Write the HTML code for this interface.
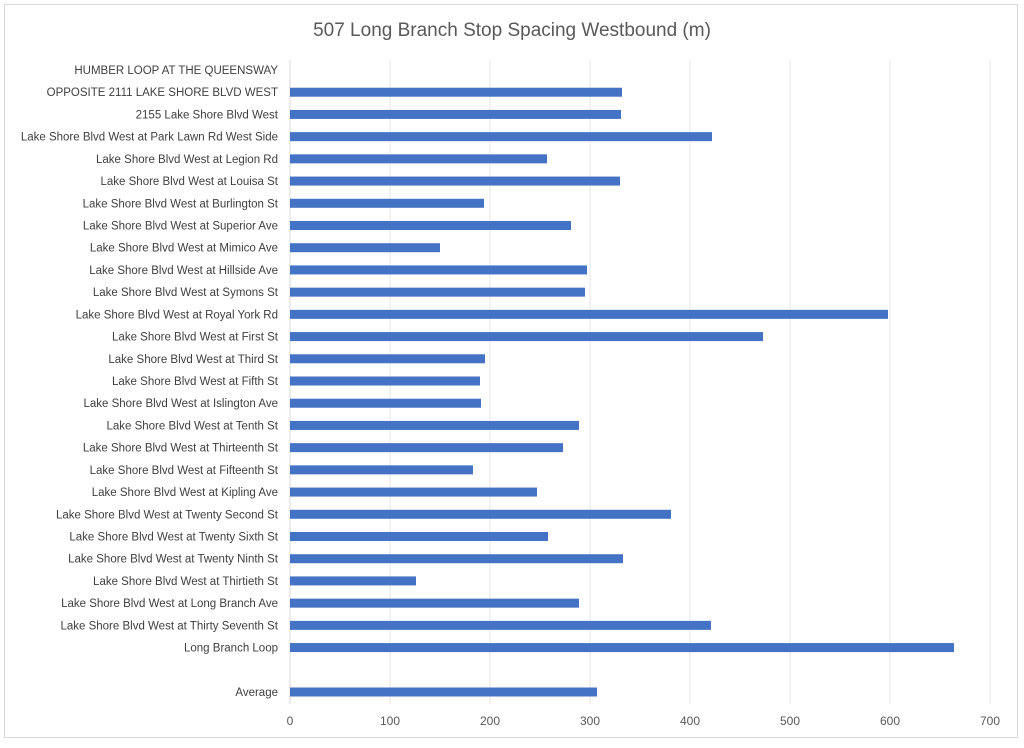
<!DOCTYPE html>
<html><head><meta charset="utf-8"><style>
html,body{margin:0;padding:0;background:#fff;}
svg text{font-family:"Liberation Sans",sans-serif;}
</style></head><body>
<svg width="1024" height="743" xmlns="http://www.w3.org/2000/svg">
<rect x="4.5" y="4.5" width="1013" height="733" fill="#fff" stroke="#d9d9d9"/>
<text x="512" y="36" text-anchor="middle" font-size="19" fill="#595959">507 Long Branch Stop Spacing Westbound (m)</text>
<g id="grid"></g><g id="bars"></g><g id="ylabels"></g><g id="xlabels"></g>
</svg>
<script>
const categories=["HUMBER LOOP AT THE QUEENSWAY","OPPOSITE 2111 LAKE SHORE BLVD WEST","2155 Lake Shore Blvd West","Lake Shore Blvd West at Park Lawn Rd West Side","Lake Shore Blvd West at Legion Rd","Lake Shore Blvd West at Louisa St","Lake Shore Blvd West at Burlington St","Lake Shore Blvd West at Superior Ave","Lake Shore Blvd West at Mimico Ave","Lake Shore Blvd West at Hillside Ave","Lake Shore Blvd West at Symons St","Lake Shore Blvd West at Royal York Rd","Lake Shore Blvd West at First St","Lake Shore Blvd West at Third St","Lake Shore Blvd West at Fifth St","Lake Shore Blvd West at Islington Ave","Lake Shore Blvd West at Tenth St","Lake Shore Blvd West at Thirteenth St","Lake Shore Blvd West at Fifteenth St","Lake Shore Blvd West at Kipling Ave","Lake Shore Blvd West at Twenty Second St","Lake Shore Blvd West at Twenty Sixth St","Lake Shore Blvd West at Twenty Ninth St","Lake Shore Blvd West at Thirtieth St","Lake Shore Blvd West at Long Branch Ave","Lake Shore Blvd West at Thirty Seventh St","Long Branch Loop",""," Average"];
const values=[0,332,331,422,257,330,194,281,150,297,295,598,473,195,190,191,289,273,183,247,381,258,333,126,289,421,664,null,307];
const ticks=[0,100,200,300,400,500,600,700];
const NS="http://www.w3.org/2000/svg";
const x0=290,pxPer=1.0,yTop=70,step=(692-70)/28,bh=9;
const xs=v=>x0+v*pxPer, ys=i=>yTop+i*step;
function mk(t,a,p){const e=document.createElementNS(NS,t);for(const k in a)e.setAttribute(k,a[k]);document.getElementById(p).appendChild(e);return e;}
ticks.forEach(t=>{
 const l=mk('line',{x1:xs(t),x2:xs(t),y1:60,y2:704,stroke:t===0?'#d9d9d9':'#e5e5e5','stroke-width':1},'grid');
 
 
 const tx=mk('text',{x:xs(t),y:725,'text-anchor':'middle','font-size':12,fill:'#595959'},'xlabels');
 tx.textContent=t;
 
 
});
categories.forEach((c,i)=>{
 const v=values[i];
 if(v){const r=mk('rect',{x:xs(0),y:ys(i)-bh/2,width:xs(v)-xs(0),height:bh,fill:'#4472c4'},'bars');
 
 }
 if(c.trim()){const t=mk('text',{x:278,y:ys(i)+4,'text-anchor':'end','font-size':11.5,fill:'#404040'},'ylabels');
 t.textContent=c.trim();
 
 }
});
</script>
</body></html>
